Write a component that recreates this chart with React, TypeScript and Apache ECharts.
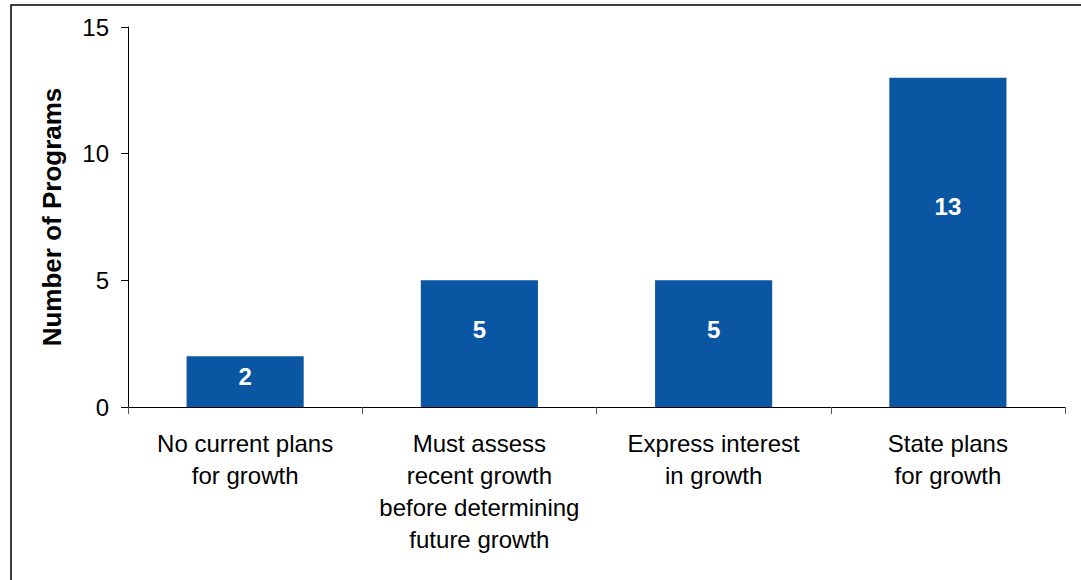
import React, { useEffect, useRef } from "react";
import * as echarts from "echarts";

const categories = [
  "No current plans\nfor growth",
  "Must assess\nrecent growth\nbefore determining\nfuture growth",
  "Express interest\nin growth",
  "State plans\nfor growth",
];
const values = [2, 5, 5, 13];
const yTicks = [0, 5, 10, 15];
const yAxisTitle = "Number of Programs";

export default function App() {
  const ref = useRef<HTMLDivElement>(null);
  useEffect(() => {
    document.body.style.margin = "0";
    const chart = echarts.init(ref.current!, null, { renderer: "svg" });
    chart.setOption({
      animation: false,
      backgroundColor: "#ffffff",
      textStyle: { fontFamily: "Liberation Sans, Arial, sans-serif" },
      grid: { left: 128, top: 27, right: 16, bottom: 173, containLabel: false },
      graphic: [
        {
          type: "rect",
          shape: { x: 11, y: 5, width: 1200, height: 700 },
          style: { fill: "none", stroke: "#000", lineWidth: 1.5 },
          silent: true,
          z: -10,
        },
      ],
      xAxis: {
        type: "category",
        data: categories,
        axisLine: { show: true, lineStyle: { color: "#000", width: 1 } },
        axisTick: { show: true, alignWithLabel: false, length: 7, lineStyle: { color: "#555" } },
        axisLabel: {
          color: "#000",
          fontSize: 24,
          lineHeight: 32,
          margin: 20,
          interval: 0,
          fontFamily: "Liberation Sans, Arial, sans-serif",
        },
      },
      yAxis: {
        type: "value",
        min: yTicks[0],
        max: yTicks[yTicks.length - 1],
        interval: 5,
        name: yAxisTitle,
        nameLocation: "middle",
        nameGap: 63,
        nameTextStyle: {
          color: "#000",
          fontSize: 26,
          fontWeight: "bold",
          fontFamily: "Liberation Sans, Arial, sans-serif",
        },
        axisLine: { show: true, lineStyle: { color: "#000", width: 1 } },
        axisTick: { show: true, length: 7, lineStyle: { color: "#000" } },
        splitLine: { show: false },
        axisLabel: {
          color: "#000",
          fontSize: 24,
          margin: 19,
          fontFamily: "Liberation Sans, Arial, sans-serif",
        },
      },
      series: [
        {
          type: "bar",
          data: values,
          barCategoryGap: "50%",
          itemStyle: { color: "#0b56a2" },
          label: {
            show: true,
            position: ["50%", "39%"],
            align: "center",
            verticalAlign: "middle",
            color: "#fff",
            fontSize: 24,
            fontWeight: "bold",
            fontFamily: "Liberation Sans, Arial, sans-serif",
          },
        },
      ],
    });
    return () => chart.dispose();
  }, []);
  return <div ref={ref} style={{ width: 1081, height: 580 }} />;
}
